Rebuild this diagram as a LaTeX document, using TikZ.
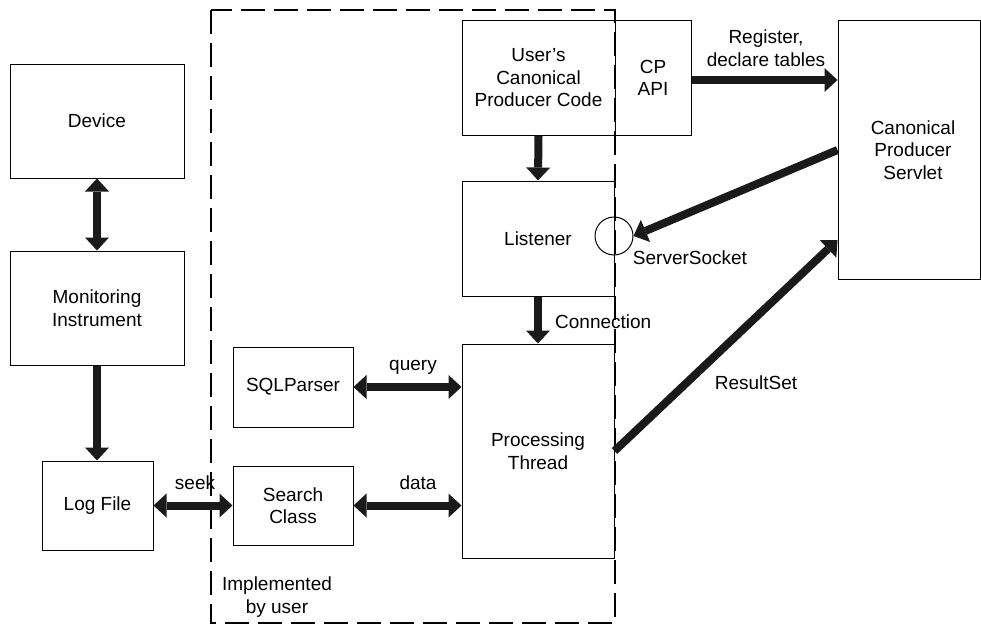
\documentclass[tikz,border=0pt]{standalone}
\usepackage{fontspec}
\setmainfont{Liberation Sans}
\usetikzlibrary{arrows.meta}
\definecolor{ink}{HTML}{1A1A1A}
\tikzset{
  box/.style={draw=black, line width=1pt, fill=white, rectangle, inner sep=0pt, align=center,
    font=\fontsize{19}{22.5}\selectfont},
  lbl/.style={inner sep=0pt, align=center, font=\fontsize{19}{22.5}\selectfont},
  tipA/.tip={Triangle[length=13pt,width=24pt,line width=0pt]},
  arr/.style={draw=ink, line width=8pt, -tipA},
  darr/.style={draw=ink, line width=8pt, tipA-tipA},
  region/.style={draw=black, line width=2pt, dash pattern=on 24pt off 9pt}
}
\begin{document}
\begin{tikzpicture}[x=1pt,y=-1pt]
\useasboundingbox (0,0) rectangle (981,626);
% left column
\node[box, minimum width=174pt, minimum height=114pt] (dev) at (97,121) {Device};
\node[box, minimum width=174pt, minimum height=114pt] (mon) at (97,308) {Monitoring\\Instrument};
\node[box, minimum width=111pt, minimum height=89pt] (log) at (97.5,505.5) {Log File};
% inner boxes
\node[box, minimum width=120pt, minimum height=80pt] (sql) at (293,387) {SQLParser};
\node[box, minimum width=120pt, minimum height=79pt] (search) at (293,505.5) {Search\\Class};
\node[box, minimum width=153pt, minimum height=114pt] (code) at (538.5,78) {User's\\Canonical\\Producer Code};
\node[box, minimum width=76pt, minimum height=114pt] (cpapi) at (653,78) {CP\\API};
\node[box, minimum width=152pt, minimum height=115pt] (listener) at (538,238.5) {Listener};
\node[box, minimum width=152pt, minimum height=214pt] (proc) at (538,451) {Processing\\Thread};
\node[box, minimum width=142pt, minimum height=258pt] (srv) at (909,150) {};
\node[lbl] (srvtext) at (913,150) {Canonical\\Producer\\Servlet};
% dashed region
\draw[region] (211,10) rectangle (615,623);
% socket
\node[draw=black, line width=1pt, circle, minimum size=38pt, inner sep=0pt] (sock) at (614,236) {};
% labels
\node[lbl] (lseek) at (195,483) {seek};
\node[lbl] (ldata) at (418,483) {data};
\node[lbl] (lquery) at (413,367) {query};
\node[lbl, anchor=west] (lconn) at (555,322) {Connection};
\node[lbl] (lsock) at (690,258) {ServerSocket};
\node[lbl] (lres) at (756,383) {ResultSet};
\node[lbl] (lreg) at (766,48) {Register,\\declare tables};
\node[lbl] (limpl) at (277,597) {Implemented\\by user};
% connectors
\draw[darr] (dev.south) -- (mon.north);
\draw[arr] (mon.south) -- (mon.south |- log.north);
\draw[darr] (log.east) -- (search.west);
\draw[darr] (sql.east) -- (sql.east -| proc.west);
\draw[darr] (search.east) -- (search.east -| proc.west);
\draw[arr] (code.south) -- (listener.north);
\draw[arr] (listener.south) -- (proc.north);
\draw[arr] ([yshift=-2pt]cpapi.east) -- ([yshift=-2pt]cpapi.east -| srv.west);
\draw[arr] (srv.west) -- (sock.east);
\draw[arr] (proc.east) -- ([yshift=-90pt]srv.west);
\end{tikzpicture}
\end{document}
